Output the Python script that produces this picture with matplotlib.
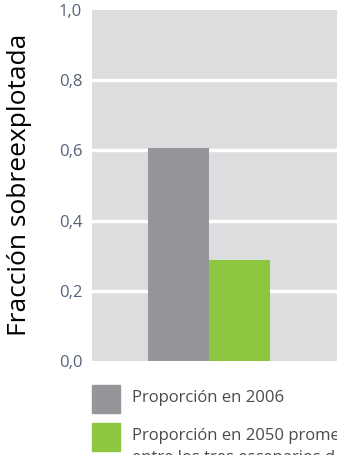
import matplotlib.pyplot as plt
from matplotlib.patches import Rectangle

categories = ["Proporción en 2006", "Proporción en 2050 promedio\nentre los tres escenarios de pesca"]
values = [0.607, 0.288]
colors = ["#959699", "#8dc63f"]
yticks = [0.0, 0.2, 0.4, 0.6, 0.8, 1.0]
ytick_labels = ["0,0", "0,2", "0,4", "0,6", "0,8", "1,0"]

plt.rcParams['font.family'] = ['Open Sans', 'DejaVu Sans']

fig = plt.figure(figsize=(3.37, 4.55), dpi=100)
ax = fig.add_axes([92 / 337, 94 / 455, 245 / 337, 351 / 455])
ax.set_facecolor("#dcdddf")

ax.bar([0, 1], values, width=1.0, color=colors, zorder=2)
for t in yticks[1:-1]:
    ax.axhline(t, color="white", lw=2.5, zorder=1)

ax.set_xlim(-1.418, -1.418 + 245 / 61)
ax.set_ylim(0, 1)
ax.set_xticks([])
ax.set_yticks(yticks)
ax.set_yticklabels(ytick_labels, color="#55637a", fontsize=12)
ax.tick_params(axis="y", length=0, pad=7)
for s in ax.spines.values():
    s.set_visible(False)

fig.text(20 / 337, 1 - 185 / 455, "Fracción sobreexplotada", rotation=90,
         ha="center", va="center", fontsize=19, color="black")

# legend
for i, (lab, c) in enumerate(zip(categories, colors)):
    y0 = 385 + i * 38
    fig.patches.append(Rectangle((92 / 337, 1 - (y0 + 28) / 455), 28 / 337, 28 / 455,
                                 transform=fig.transFigure, color=c))
    fig.text(132 / 337, 1 - (y0 + 5) / 455, lab, ha="left", va="top",
             fontsize=12, color="#4a4a4a", linespacing=1.5)

fig.savefig("out.png", dpi=100)
